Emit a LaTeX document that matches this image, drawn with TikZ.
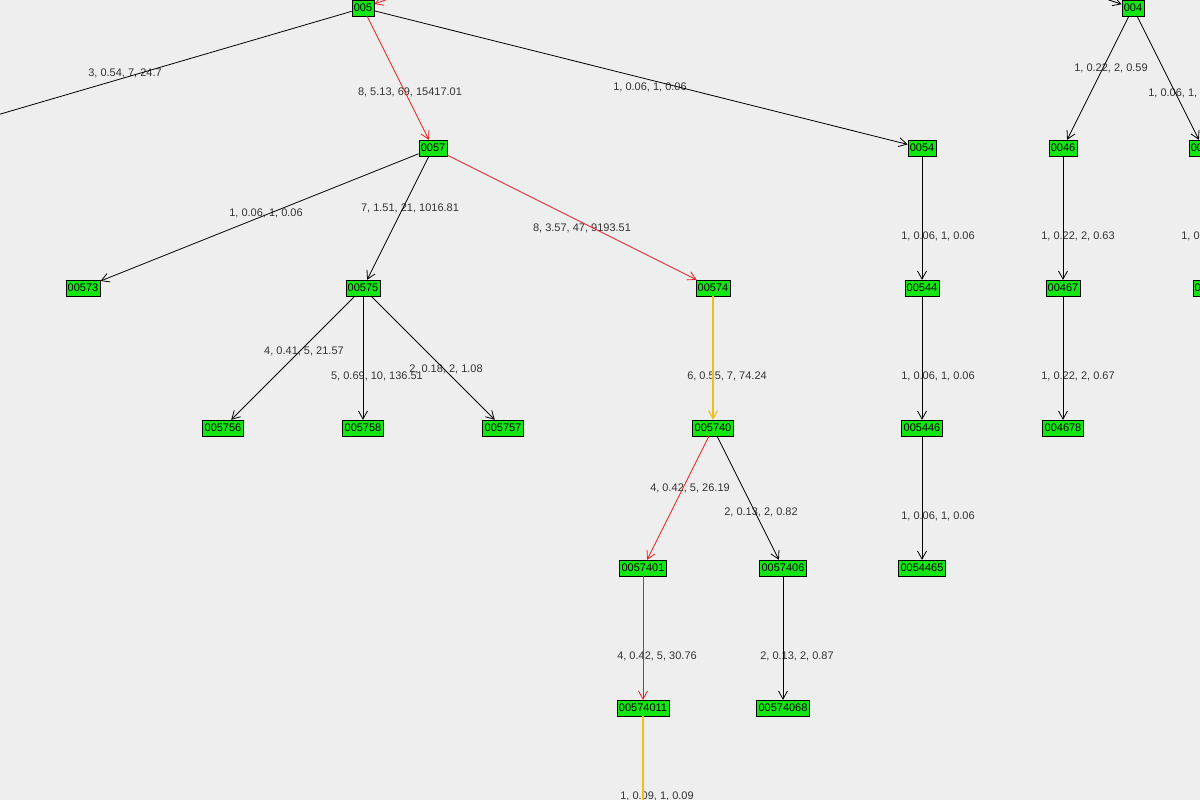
\documentclass[tikz,border=0pt]{standalone}
\usepackage{fontspec}
\setmainfont{Liberation Sans}
\usetikzlibrary{arrows.meta}
\definecolor{bgc}{RGB}{238,238,238}
\definecolor{boxc}{RGB}{20,230,20}
\definecolor{hot}{RGB}{235,30,30}
\definecolor{warm}{RGB}{240,190,20}
\tikzset{%
	tnode/.style  = {draw, fill=boxc, rectangle, inner xsep=2pt, inner ysep=1pt, minimum height=16pt,
		font=\fontsize{11}{12}\selectfont}, % tree node
	elab/.style   = {font=\fontsize{11}{12}\selectfont, text=black!80, inner sep=0pt}, % edge label
	edge/.style   = {draw, -{Straight Barb[length=8pt,width=9pt]}, line width=0.8pt},
	hotedge/.style = {edge, hot},
	warmedge/.style = {edge, warm, line width=1.1pt}
}
\begin{document}
\begin{tikzpicture}[x=1pt,y=-1pt]
	\fill[bgc] (0,0) rectangle (1200,800);
	\useasboundingbox (0,0) rectangle (1200,800);
	\clip (0,0) rectangle (1200,800);
	
	\coordinate (in5) at (425,-14);
	\coordinate (in4) at (1085,-8);
	\coordinate (left5) at (-20,120);
	\coordinate (down11) at (643,820);
	
	\node[tnode] at (363,8) (n005) {005};
	\node[tnode] at (433,148) (n0057) {0057};
	\node[tnode] at (922,148) (n0054) {0054};
	\node[tnode] at (1133,8) (n004) {004};
	\node[tnode] at (1063,148) (n0046) {0046};
	\node[tnode] at (1203,148) (n0045) {0045};
	\node[tnode] at (83,288) (n0573) {00573};
	\node[tnode] at (363,288) (n0575) {00575};
	\node[tnode] at (713,288) (n0574) {00574};
	\node[tnode] at (922,288) (n0544) {00544};
	\node[tnode] at (1063,288) (n0467) {00467};
	\node[tnode] at (1210,288) (n0454) {00454};
	\node[tnode] at (223,428) (n5756) {005756};
	\node[tnode] at (363,428) (n5758) {005758};
	\node[tnode] at (503,428) (n5757) {005757};
	\node[tnode] at (713,428) (n5740) {005740};
	\node[tnode] at (922,428) (n5446) {005446};
	\node[tnode] at (1063,428) (n4678) {004678};
	\node[tnode] at (643,568) (n57401) {0057401};
	\node[tnode] at (783,568) (n57406) {0057406};
	\node[tnode] at (922,568) (n54465) {0054465};
	\node[tnode] at (643,708) (n574011) {00574011};
	\node[tnode] at (783,708) (n574068) {00574068};
	
	\node[elab] at (125,73) (l1) {3, 0.54, 7, 24.7};
	\node[elab] at (410,92) (l2) {8, 5.13, 69, 15417.01};
	\node[elab] at (650,87) (l3) {1, 0.06, 1, 0.06};
	\node[elab] at (1111,68) (l4) {1, 0.22, 2, 0.59};
	\node[elab] at (1185,93) (l5) {1, 0.06, 1, 0.06};
	\node[elab] at (266,213) (l6) {1, 0.06, 1, 0.06};
	\node[elab] at (410,208) (l7) {7, 1.51, 21, 1016.81};
	\node[elab] at (582,228) (l8) {8, 3.57, 47, 9193.51};
	\node[elab] at (938,236) (l9) {1, 0.06, 1, 0.06};
	\node[elab] at (1078,236) (l10) {1, 0.22, 2, 0.63};
	\node[elab] at (1218,236) (l11) {1, 0.06, 1, 0.06};
	\node[elab] at (304,351) (l12) {4, 0.41, 5, 21.57};
	\node[elab] at (377,376) (l13) {5, 0.69, 10, 136.51};
	\node[elab] at (446,369) (l14) {2, 0.18, 2, 1.08};
	\node[elab] at (727,376) (l15) {6, 0.55, 7, 74.24};
	\node[elab] at (938,376) (l16) {1, 0.06, 1, 0.06};
	\node[elab] at (1078,376) (l17) {1, 0.22, 2, 0.67};
	\node[elab] at (690,488) (l18) {4, 0.42, 5, 26.19};
	\node[elab] at (761,512) (l19) {2, 0.13, 2, 0.82};
	\node[elab] at (938,516) (l20) {1, 0.06, 1, 0.06};
	\node[elab] at (657,656) (l21) {4, 0.42, 5, 30.76};
	\node[elab] at (797,656) (l22) {2, 0.13, 2, 0.87};
	\node[elab] at (657,796) (l23) {1, 0.09, 1, 0.09};
	
	\draw[hotedge] (in5) -- (n005);
	\draw[edge] (in4) -- (n004);
	\draw[edge,-] (n005) -- (left5);
	\draw[hotedge] (n005) -- (n0057);
	\draw[edge] (n005) -- (n0054);
	\draw[edge] (n004) -- (n0046);
	\draw[edge] (n004) -- (n0045);
	\draw[edge] (n0057) -- (n0573);
	\draw[edge] (n0057) -- (n0575);
	\draw[hotedge] (n0057) -- (n0574);
	\draw[edge] (n0054) -- (n0544);
	\draw[edge] (n0046) -- (n0467);
	\draw[edge] (n0045) -- (n0454);
	\draw[edge] (n0575) -- (n5756);
	\draw[edge] (n0575) -- (n5758);
	\draw[edge] (n0575) -- (n5757);
	\draw[warmedge] (n0574) -- (n5740);
	\draw[edge] (n0544) -- (n5446);
	\draw[edge] (n0467) -- (n4678);
	\draw[hotedge] (n5740) -- (n57401);
	\draw[edge] (n5740) -- (n57406);
	\draw[edge] (n5446) -- (n54465);
	\draw[hotedge] (n57401) -- (n574011);
	\draw[edge] (n57406) -- (n574068);
	\draw[warmedge,-] (n574011) -- (down11);
	
\end{tikzpicture}
\end{document}
